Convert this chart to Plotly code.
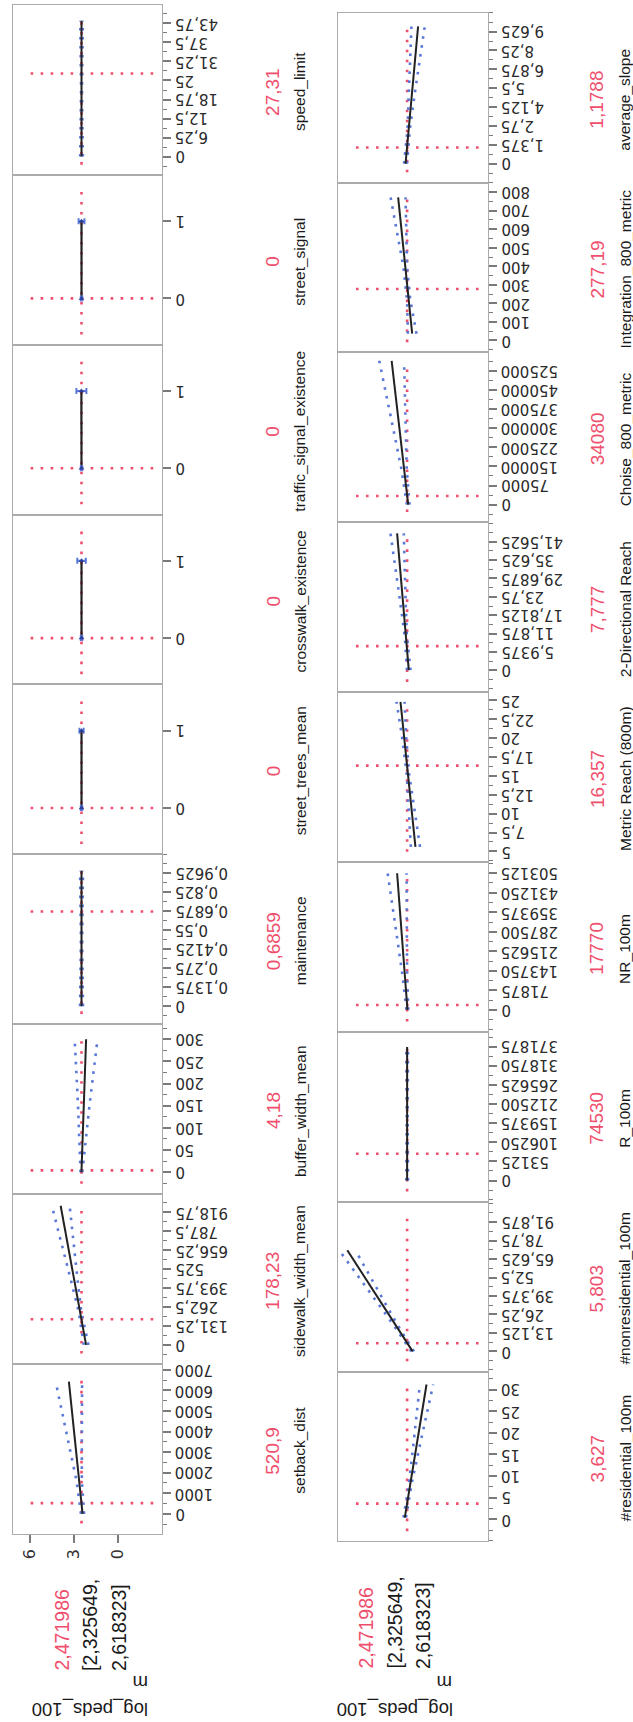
import plotly.graph_objects as go

# ---------------------------------------------------------------- data
response_label = "log_peds_100"
response_label_tail = "m"
response_value = 2.471986
response_value_text = "2,471986"
response_ci_lo_text = "[2,325649,"
response_ci_hi_text = "2,618323]"
response_tickvals = [0, 3, 6]
response_ticktext = ["0", "3", "6"]

# left column of the picture (first profiler row), top -> bottom
left_factors = ["speed_limit", "street_signal", "traffic_signal_existence", "crosswalk_existence",
                "street_trees_mean", "maintenance", "buffer_width_mean", "sidewalk_width_mean", "setback_dist"]
left_values = [27.31, 0, 0, 0, 0, 0.6859, 4.18, 178.23, 520.9]
left_value_text = ["27,31", "0", "0", "0", "0", "0,6859", "4,18", "178,23", "520,9"]

# right column of the picture (second profiler row), top -> bottom
right_factors = ["average_slope", "Integration_800_metric", "Choise_800_metric", "2-Directional Reach",
                 "Metric Reach (800m)", "NR_100m", "R_100m", "#nonresidential_100m", "#residential_100m"]
right_values = [1.1788, 277.19, 34080, 7.777, 16.357, 17770, 74530, 5.803, 3.627]
right_value_text = ["1,1788", "277,19", "34080", "7,777", "16,357", "17770", "74530", "5,803", "3,627"]

# --- profile traces (factor value, predicted log_peds_100, confidence band)
speed_limit_x = [0, 44.6]
speed_limit_pred = [2.472, 2.472]
speed_limit_band_x = [0, 22.3, 44.6]
speed_limit_lo = [2.38, 2.44, 2.38]
speed_limit_hi = [2.56, 2.50, 2.56]
speed_limit_ticks = [0, 6.25, 12.5, 18.75, 25, 31.25, 37.5, 43.75]
speed_limit_ticktext = ["0", "6,25", "12,5", "18,75", "25", "31,25", "37,5", "43,75"]

street_signal_x = [0, 1]
street_signal_pred = [2.472, 2.472]
street_signal_lo = [2.42, 2.27]
street_signal_hi = [2.52, 2.67]

traffic_signal_x = [0, 1]
traffic_signal_pred = [2.472, 2.48]
traffic_signal_lo = [2.42, 2.14]
traffic_signal_hi = [2.52, 2.82]

crosswalk_x = [0, 1]
crosswalk_pred = [2.472, 2.472]
crosswalk_lo = [2.42, 2.18]
crosswalk_hi = [2.52, 2.76]

street_trees_x = [0, 1]
street_trees_pred = [2.472, 2.472]
street_trees_lo = [2.42, 2.33]
street_trees_hi = [2.52, 2.61]

binary_ticks = [0, 1]
binary_ticktext = ["0", "1"]

maintenance_x = [0, 0.98]
maintenance_pred = [2.472, 2.472]
maintenance_band_x = [0, 0.49, 0.98]
maintenance_lo = [2.37, 2.43, 2.37]
maintenance_hi = [2.57, 2.51, 2.57]
maintenance_ticks = [0, 0.1375, 0.275, 0.4125, 0.55, 0.6875, 0.825, 0.9625]
maintenance_ticktext = ["0", "0,1375", "0,275", "0,4125", "0,55", "0,6875", "0,825", "0,9625"]

buffer_x = [0, 300]
buffer_pred = [2.476, 2.16]
buffer_band_x = [0, 75, 150, 225, 300]
buffer_lo = [2.42, 2.20, 1.93, 1.66, 1.38]
buffer_hi = [2.54, 2.60, 2.71, 2.82, 2.94]
buffer_ticks = [0, 50, 100, 150, 200, 250, 300]
buffer_ticktext = ["0", "50", "100", "150", "200", "250", "300"]

sidewalk_x = [0, 965]
sidewalk_pred = [2.16, 3.89]
sidewalk_band_x = [0, 240, 480, 720, 965]
sidewalk_lo = [2.00, 2.50, 2.77, 3.01, 3.28]
sidewalk_hi = [2.32, 2.68, 3.27, 3.89, 4.49]
sidewalk_ticks = [0, 131.25, 262.5, 393.75, 525, 656.25, 787.5, 918.75]
sidewalk_ticktext = ["0", "131,25", "262,5", "393,75", "525", "656,25", "787,5", "918,75"]

setback_x = [0, 6430]
setback_pred = [2.40, 3.33]
setback_band_x = [0, 1600, 3200, 4800, 6430]
setback_lo = [2.29, 2.45, 2.45, 2.44, 2.43]
setback_hi = [2.51, 2.81, 3.28, 3.75, 4.23]
setback_ticks = [0, 1000, 2000, 3000, 4000, 5000, 6000, 7000]
setback_ticktext = ["0", "1000", "2000", "3000", "4000", "5000", "6000", "7000"]

slope_x = [0, 10.0]
slope_pred = [2.58, 1.73]
slope_band_x = [0, 2.5, 5, 7.5, 10]
slope_lo = [2.48, 2.29, 1.97, 1.62, 1.28]
slope_hi = [2.68, 2.45, 2.36, 2.26, 2.18]
slope_ticks = [0, 1.375, 2.75, 4.125, 5.5, 6.875, 8.25, 9.625]
slope_ticktext = ["0", "1,375", "2,75", "4,125", "5,5", "6,875", "8,25", "9,625"]

integration_x = [36, 772]
integration_pred = [2.13, 3.08]
integration_band_x = [36, 220, 400, 590, 772]
integration_lo = [1.84, 2.26, 2.48, 2.53, 2.58]
integration_hi = [2.42, 2.48, 2.73, 3.16, 3.59]
integration_ticks = [0, 100, 200, 300, 400, 500, 600, 700, 800]
integration_ticktext = ["0", "100", "200", "300", "400", "500", "600", "700", "800"]

choise_x = [0, 564000]
choise_pred = [2.40, 3.52]
choise_band_x = [0, 140000, 280000, 420000, 564000]
choise_lo = [2.31, 2.50, 2.56, 2.62, 2.68]
choise_hi = [2.49, 2.86, 3.35, 3.85, 4.36]
choise_ticks = [0, 75000, 150000, 225000, 300000, 375000, 450000, 525000]
choise_ticktext = ["0", "75000", "150000", "225000", "300000", "375000", "450000", "525000"]

reach2_x = [0, 44.3]
reach2_pred = [2.36, 3.15]
reach2_band_x = [0, 11, 22, 33, 44.3]
reach2_lo = [2.24, 2.49, 2.57, 2.63, 2.70]
reach2_hi = [2.48, 2.63, 2.94, 3.27, 3.60]
reach2_ticks = [0, 5.9375, 11.875, 17.8125, 23.75, 29.6875, 35.625, 41.5625]
reach2_ticktext = ["0", "5,9375", "11,875", "17,8125", "23,75", "29,6875", "35,625", "41,5625"]

metric_x = [5.6, 24.8]
metric_pred = [1.91, 2.92]
metric_band_x = [5.6, 10.4, 15.2, 20, 24.8]
metric_lo = [1.60, 1.98, 2.33, 2.53, 2.65]
metric_hi = [2.22, 2.34, 2.50, 2.80, 3.19]
metric_ticks = [5, 7.5, 10, 12.5, 15, 17.5, 20, 22.5, 25]
metric_ticktext = ["5", "7,5", "10", "12,5", "15", "17,5", "20", "22,5", "25"]

nr_x = [0, 503000]
nr_pred = [2.45, 3.15]
nr_band_x = [0, 125000, 250000, 375000, 503000]
nr_lo = [2.39, 2.47, 2.49, 2.50, 2.51]
nr_hi = [2.52, 2.78, 3.11, 3.45, 3.79]
nr_ticks = [0, 71875, 143750, 215625, 287500, 359375, 431250, 503125]
nr_ticktext = ["0", "71875", "143750", "215625", "287500", "359375", "431250", "503125"]

r_x = [0, 371000]
r_pred = [2.472, 2.472]
r_band_x = [0, 185000, 371000]
r_lo = [2.41, 2.44, 2.41]
r_hi = [2.53, 2.50, 2.53]
r_ticks = [0, 53125, 106250, 159375, 212500, 265625, 318750, 371875]
r_ticktext = ["0", "53125", "106250", "159375", "212500", "265625", "318750", "371875"]

nonres_x = [0, 71.9]
nonres_pred = [2.10, 6.52]
nonres_band_x = [0, 18, 36, 54, 71.9]
nonres_lo = [2.01, 3.08, 4.05, 5.01, 5.97]
nonres_hi = [2.19, 3.34, 4.58, 5.83, 7.07]
nonres_ticks = [0, 13.125, 26.25, 39.375, 52.5, 65.625, 78.75, 91.875]
nonres_ticktext = ["0", "13,125", "26,25", "39,375", "52,5", "65,625", "78,75", "91,875"]

res_x = [0.4, 31.2]
res_pred = [2.63, 1.16]
res_band_x = [0.4, 8, 16, 24, 31.2]
res_lo = [2.55, 2.18, 1.68, 1.16, 0.71]
res_hi = [2.72, 2.36, 2.09, 1.84, 1.61]
res_ticks = [0, 5, 10, 15, 20, 25, 30]
res_ticktext = ["0", "5", "10", "15", "20", "25", "30"]

# ---------------------------------------------------------------- scales (layout)
left_ranges = [[-6.0, 49.8], [-0.6, 1.6], [-0.6, 1.6], [-0.6, 1.6], [-0.6, 1.6],
               [-0.13, 1.10], [-49, 334], [-131, 1047], [-962, 7293]]
left_minor = [3.125, None, None, None, None, 0.06875, 25, 65.625, 500]
right_ranges = [[-1.37, 11.0], [-65, 852], [-69000, 597000], [-7.1, 47.9], [3.6, 26.1],
                [-81000, 544700], [-58600, 412900], [-14.3, 106.5], [-5.1, 34.2]]
right_minor = [0.6875, 50, 37500, 2.96875, 1.25, 35937.5, 26562.5, 6.5625, 2.5]
response_range = [7.15, -3.0]

left_curves = [
    ("cont", speed_limit_x, speed_limit_pred, speed_limit_band_x, speed_limit_lo, speed_limit_hi, speed_limit_ticks, speed_limit_ticktext),
    ("bin", street_signal_x, street_signal_pred, street_signal_x, street_signal_lo, street_signal_hi, binary_ticks, binary_ticktext),
    ("bin", traffic_signal_x, traffic_signal_pred, traffic_signal_x, traffic_signal_lo, traffic_signal_hi, binary_ticks, binary_ticktext),
    ("bin", crosswalk_x, crosswalk_pred, crosswalk_x, crosswalk_lo, crosswalk_hi, binary_ticks, binary_ticktext),
    ("bin", street_trees_x, street_trees_pred, street_trees_x, street_trees_lo, street_trees_hi, binary_ticks, binary_ticktext),
    ("cont", maintenance_x, maintenance_pred, maintenance_band_x, maintenance_lo, maintenance_hi, maintenance_ticks, maintenance_ticktext),
    ("cont", buffer_x, buffer_pred, buffer_band_x, buffer_lo, buffer_hi, buffer_ticks, buffer_ticktext),
    ("cont", sidewalk_x, sidewalk_pred, sidewalk_band_x, sidewalk_lo, sidewalk_hi, sidewalk_ticks, sidewalk_ticktext),
    ("cont", setback_x, setback_pred, setback_band_x, setback_lo, setback_hi, setback_ticks, setback_ticktext),
]
right_curves = [
    ("cont", slope_x, slope_pred, slope_band_x, slope_lo, slope_hi, slope_ticks, slope_ticktext),
    ("cont", integration_x, integration_pred, integration_band_x, integration_lo, integration_hi, integration_ticks, integration_ticktext),
    ("cont", choise_x, choise_pred, choise_band_x, choise_lo, choise_hi, choise_ticks, choise_ticktext),
    ("cont", reach2_x, reach2_pred, reach2_band_x, reach2_lo, reach2_hi, reach2_ticks, reach2_ticktext),
    ("cont", metric_x, metric_pred, metric_band_x, metric_lo, metric_hi, metric_ticks, metric_ticktext),
    ("cont", nr_x, nr_pred, nr_band_x, nr_lo, nr_hi, nr_ticks, nr_ticktext),
    ("cont", r_x, r_pred, r_band_x, r_lo, r_hi, r_ticks, r_ticktext),
    ("cont", nonres_x, nonres_pred, nonres_band_x, nonres_lo, nonres_hi, nonres_ticks, nonres_ticktext),
    ("cont", res_x, res_pred, res_band_x, res_lo, res_hi, res_ticks, res_ticktext),
]

# ---------------------------------------------------------------- geometry / style
W, H = 633, 1722
PANEL_H = 169.85
COLS = [
    dict(x0=12.7, x1=162.0, top=5.0, names=left_factors, vals=left_values, vtext=left_value_text,
         curves=left_curves, ranges=left_ranges, minor=left_minor, val_x=273, name_x=300,
         resp_lbl_x=90, resp_m_x=141, resp_val_x=[61, 90, 118.5], resp_bottom=1673),
    dict(x0=338.0, x1=488.0, top=12.7, names=right_factors, vals=right_values, vtext=right_value_text,
         curves=right_curves, ranges=right_ranges, minor=right_minor, val_x=597, name_x=625,
         resp_lbl_x=395, resp_m_x=445, resp_val_x=[365, 394.5, 422.5], resp_bottom=1671),
]
RED = "#ef4f6d"
BLUE = "#5a78d8"
FRAME = "#ababab"
TICKC = "#7a7a7a"
TXT = "#1a1a1a"
SANS = "Liberation Sans, Arial, sans-serif"
TICKFONT = "DejaVu Sans, sans-serif"


def px(p):
    return p / W


def py(p):
    return 1 - p / H


fig = go.Figure()
layout = dict(width=W, height=H, margin=dict(l=0, r=0, t=0, b=0), autosize=False,
              paper_bgcolor="white", plot_bgcolor="white", showlegend=False)
shapes, annotations = [], []

k = 0
for ci, col in enumerate(COLS):
    for i in range(9):
        k += 1
        sfx = "" if k == 1 else str(k)
        xa, ya = "x" + sfx, "y" + sfx
        top = col["top"] + PANEL_H * i
        bot = top + PANEL_H
        kind, lx, lpred, bx, blo, bhi, ticks, ticktext = col["curves"][i]
        is_resp_axis = (ci == 0 and i == 8)

        layout["xaxis" + sfx] = dict(
            domain=[px(col["x0"]), px(col["x1"])], anchor=ya, range=response_range,
            showgrid=False, zeroline=False, showline=True, mirror=True,
            linecolor=FRAME, linewidth=1.2,
            ticks="outside" if is_resp_axis else "", ticklen=8, tickcolor=TICKC, tickwidth=1.5,
            tickmode="array", tickvals=response_tickvals, ticktext=response_ticktext,
            showticklabels=is_resp_axis, tickangle=-90,
            tickfont=dict(family=TICKFONT, size=16, color="#333"),
        )
        yax = dict(
            domain=[py(bot), py(top)], anchor=xa, range=col["ranges"][i], side="right",
            showgrid=False, zeroline=False, showline=True, mirror=True,
            linecolor=FRAME, linewidth=1.2,
            ticks="outside", ticklen=8, tickcolor=TICKC, tickwidth=1.5,
            tickmode="array", tickvals=ticks, showticklabels=False,
        )
        if col["minor"][i] is not None:
            yax["minor"] = dict(dtick=col["minor"][i], tick0=0, ticks="outside", ticklen=4,
                                tickcolor=TICKC, tickwidth=1.2)
        layout["yaxis" + sfx] = yax

        # red cross-hair (current settings)
        shapes.append(dict(type="line", layer="below", xref=xa, yref=ya + " domain",
                           x0=response_value, x1=response_value, y0=0.06, y1=0.905,
                           line=dict(color=RED, width=2.6, dash="2.6px,7.4px")))
        shapes.append(dict(type="line", layer="below", xref=xa + " domain", yref=ya,
                           x0=0.12, x1=0.953, y0=col["vals"][i], y1=col["vals"][i],
                           line=dict(color=RED, width=2.6, dash="2.6px,7.4px")))

        if kind == "cont":
            for band in (blo, bhi):
                fig.add_trace(go.Scatter(x=band, y=bx, mode="lines", xaxis=xa, yaxis=ya,
                                         line=dict(color=BLUE, width=2.6, dash="2.6px,6.4px"),
                                         hoverinfo="skip"))
            fig.add_trace(go.Scatter(x=lpred, y=lx, mode="lines", xaxis=xa, yaxis=ya,
                                     line=dict(color="#222222", width=2)))
        else:
            fig.add_trace(go.Scatter(x=lpred, y=lx, mode="lines", xaxis=xa, yaxis=ya,
                                     line=dict(color="#222222", width=2.2)))
            fig.add_trace(go.Scatter(
                x=lpred, y=bx, mode="markers", xaxis=xa, yaxis=ya,
                marker=dict(color="#2a3f9a", size=5, symbol="triangle-up"),
                error_x=dict(type="data", symmetric=False,
                             array=[h - p for h, p in zip(bhi, lpred)],
                             arrayminus=[p - l for p, l in zip(lpred, blo)],
                             color=BLUE, thickness=2, width=3)))

        # factor tick labels (upside-down, as in the picture)
        for tv, tt in zip(ticks, ticktext):
            annotations.append(dict(text=tt, xref="paper", yref=ya, x=px(col["x1"] + 12.5), y=tv,
                                    xanchor="left", yanchor="middle", textangle=180, showarrow=False,
                                    font=dict(family=TICKFONT, size=15, color="#2a2a2a"), borderpad=0))

        cy = py((top + bot) / 2 + 2)
        annotations.append(dict(text=col["vtext"][i], xref="paper", yref="paper", x=px(col["val_x"]), y=cy,
                                xanchor="center", yanchor="middle", textangle=-90, showarrow=False,
                                font=dict(family=SANS, size=19, color=RED)))
        annotations.append(dict(text=col["names"][i], xref="paper", yref="paper", x=px(col["name_x"]), y=cy,
                                xanchor="center", yanchor="middle", textangle=-90, showarrow=False,
                                font=dict(family=SANS, size=15.5, color=TXT)))

    # response block under each column
    annotations.append(dict(text=response_label, xref="paper", yref="paper", x=px(col["resp_lbl_x"]), y=py(1709),
                            xanchor="center", yanchor="middle", textangle=180, showarrow=False,
                            font=dict(family=SANS, size=18.5, color=TXT)))
    annotations.append(dict(text=response_label_tail, xref="paper", yref="paper", x=px(col["resp_m_x"]), y=py(1683),
                            xanchor="center", yanchor="middle", textangle=180, showarrow=False,
                            font=dict(family=SANS, size=18.5, color=TXT)))
    for t, xx, c in zip([response_value_text, response_ci_lo_text, response_ci_hi_text],
                        col["resp_val_x"], [RED, TXT, TXT]):
        annotations.append(dict(text=t, xref="paper", yref="paper", x=px(xx), y=py(col["resp_bottom"]),
                                xanchor="center", yanchor="bottom", textangle=-90, showarrow=False,
                                font=dict(family=SANS, size=19.5, color=c)))

layout["shapes"] = shapes
layout["annotations"] = annotations
fig.update_layout(**layout)

fig.write_html("out.html", config={"displayModeBar": False},
               post_script="document.body.style.margin='0';document.body.style.padding='0';")
